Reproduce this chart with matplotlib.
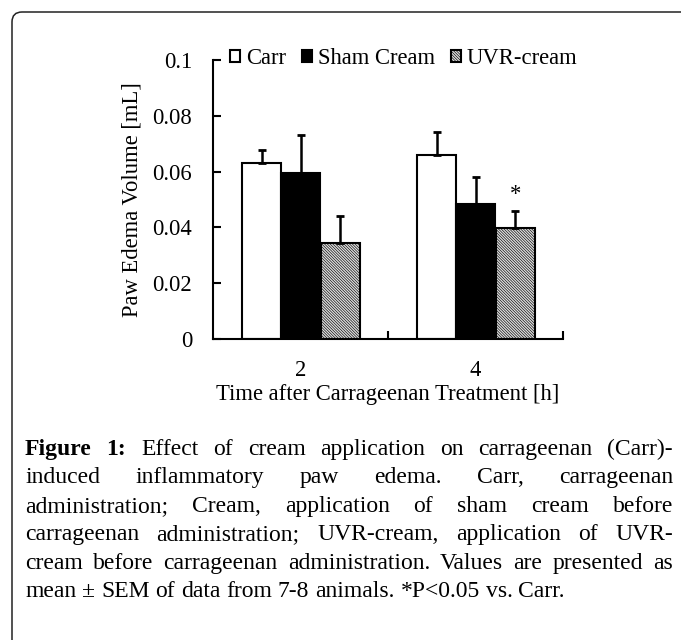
import numpy as np
import matplotlib
matplotlib.use("Agg")
import matplotlib.pyplot as plt
from matplotlib.patches import FancyBboxPatch
from matplotlib.transforms import IdentityTransform

# === data ===
times = ["2", "4"]
series_names = ["Carr", "Sham Cream", "UVR-cream"]
carr_mean = [0.0632, 0.0658]
carr_sem = [0.0044, 0.0085]
sham_mean = [0.0596, 0.0485]
sham_sem = [0.0135, 0.0094]
uvr_mean = [0.0343, 0.0398]
uvr_sem = [0.0097, 0.0062]
uvr_sig = ["", "*"]
ytick_vals = [0, 0.02, 0.04, 0.06, 0.08, 0.1]
ytick_labels = ["0", "0.02", "0.04", "0.06", "0.08", "0.1"]

caption_lines = [
    "Figure 1: Effect of cream application on carrageenan (Carr)-",
    "induced inflammatory paw edema. Carr, carrageenan",
    "administration; Cream, application of sham cream before",
    "carrageenan administration; UVR-cream, application of UVR-",
    "cream before carrageenan administration. Values are presented as",
    "mean \u00b1 SEM of data from 7-8 animals. *P<0.05 vs. Carr.",
]

plt.rcParams["font.family"] = ["Liberation Serif", "DejaVu Serif"]
plt.rcParams["hatch.linewidth"] = 0.45

W, H = 681, 640
fs = 16.3
fig = plt.figure(figsize=(W / 100, H / 100), dpi=100, facecolor="white")
ax = fig.add_axes([213 / W, 1 - 339 / H, 350 / W, 279 / H])

x = np.arange(len(times))
width = 0.22
offsets = [-0.222, 0.0, 0.228]
means = [carr_mean, sham_mean, uvr_mean]
sems = [carr_sem, sham_sem, uvr_sem]
styles = [dict(facecolor="white"),
          dict(facecolor="black"),
          dict(facecolor="#dedede", hatch="\\" * 12)]

for name, m, s, off, st in zip(series_names, means, sems, offsets, styles):
    ax.bar(x + off, m, width, edgecolor="black", linewidth=1.5,
           label=name, zorder=2, **st)
    ax.errorbar(x + off, m, yerr=[np.zeros(len(s)), s], fmt="none",
                ecolor="black", elinewidth=1.8, capsize=2.8, capthick=2.0,
                zorder=3)

# significance mark
for i, mark in enumerate(uvr_sig):
    if mark:
        ax.annotate(mark, (x[i] + offsets[2], uvr_mean[i] + uvr_sem[i]),
                    xytext=(0, 4), textcoords="offset points",
                    ha="center", va="bottom", fontsize=fs)

ax.set_xlim(-0.5, len(times) - 0.5)
ax.set_ylim(0, 0.1)
ax.set_yticks(ytick_vals)
ax.set_yticklabels(ytick_labels)
ax.tick_params(axis="y", direction="in", length=6, width=1.5, pad=15,
               labelsize=fs)

ax.set_xticks(list(x[:-1] + 0.5) + [x[-1] + 0.5])
ax.set_xticklabels([])
ax.set_xticks(x, minor=True)
ax.set_xticklabels(times, minor=True)
ax.tick_params(axis="x", which="major", direction="in", length=6, width=1.5)
ax.tick_params(axis="x", which="minor", length=0, pad=15, labelsize=fs)

for sp in ["top", "right"]:
    ax.spines[sp].set_visible(False)
for sp in ["left", "bottom"]:
    ax.spines[sp].set_linewidth(1.5)

ax.set_xlabel("Time after Carrageenan Treatment [h]", fontsize=fs, labelpad=2)
ax.set_ylabel("Paw Edema Volume [mL]", fontsize=fs, labelpad=7)

ax.legend(loc="center", bbox_to_anchor=(0.545, 1.005), ncol=3, frameon=False,
          fontsize=fs, handlelength=0.45, handleheight=0.45,
          handletextpad=0.25, columnspacing=0.7, borderaxespad=0)

# rounded frame around the figure panel
frame = FancyBboxPatch((12, -30), 720, 658, boxstyle="round,pad=0,rounding_size=10",
                       transform=IdentityTransform(), facecolor="none",
                       edgecolor="#222222", linewidth=1.1)
fig.patches.append(frame)

# justified caption
renderer = fig.canvas.get_renderer()
cap_size = 17
left, right = 25, 673
base0, step = 455, 28.4
for i, line in enumerate(caption_lines):
    y = 1 - (base0 + i * step) / H
    words = line.split(" ")
    texts = []
    for j, wd in enumerate(words):
        bold = (i == 0 and j < 2)
        t = fig.text(0, y, wd, fontsize=cap_size,
                     fontweight="bold" if bold else "normal",
                     ha="left", va="baseline")
        texts.append(t)
    widths = [t.get_window_extent(renderer).width for t in texts]
    if i < len(caption_lines) - 1:
        gap = (right - left - sum(widths)) / (len(words) - 1)
    else:
        gap = 0.25 * cap_size * 100 / 72
    xpos = left
    for t, wdt in zip(texts, widths):
        t.set_x(xpos / W)
        xpos += wdt + gap

fig.savefig("out.png", dpi=100)
